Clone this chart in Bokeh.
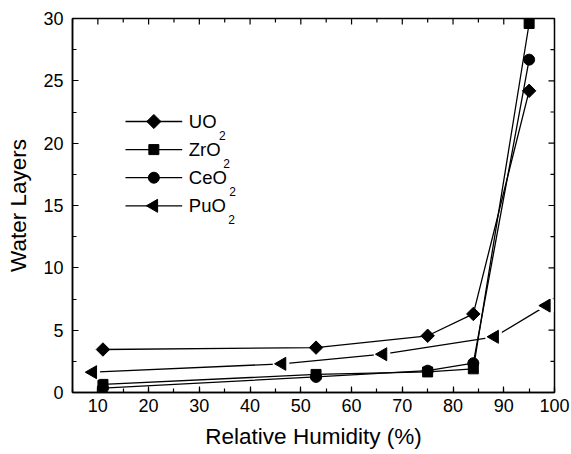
import numpy as np
from bokeh.plotting import figure
from bokeh.models import LinearAxis, SingleIntervalTicker, Range1d
from bokeh.core.properties import value
from bokeh.embed import file_html
from bokeh.resources import INLINE

# ---- data ----
rh = [11, 53, 75, 84, 95]
uo2 = [3.45, 3.6, 4.55, 6.3, 24.2]
zro2 = [0.65, 1.45, 1.65, 1.9, 29.6]
ceo2 = [0.35, 1.25, 1.75, 2.35, 26.7]
rh_pu = [9, 46.3, 66.2, 88.2, 98.4]
puo2 = [1.63, 2.3, 3.07, 4.47, 6.97]

names = ["UO", "ZrO", "CeO", "PuO"]
subs = ["2", "2", "2", "2"]
x_title = "Relative Humidity (%)"
y_title = "Water Layers"
x_ticks = list(range(10, 101, 10))
y_ticks = list(range(0, 31, 5))

FONT = "Liberation Sans"

# ---- layout ----
W, H = 571, 454
BL, BR, BT, BB = 72, 17, 18, 62
FW, FH = W - BL - BR, H - BT - BB

p = figure(width=W, height=H, output_backend="svg", toolbar_location=None,
           x_range=Range1d(5, 100), y_range=Range1d(0, 30),
           min_border_left=BL, min_border_right=BR, min_border_top=BT, min_border_bottom=BB,
           x_axis_location=None, y_axis_location=None)
p.background_fill_color = "white"
p.border_fill_color = "white"
p.outline_line_color = "black"
p.outline_line_width = 1.5
p.grid.visible = False
# pixel-unit ranges for the legend block
p.extra_x_ranges = {"px": Range1d(0, FW)}
p.extra_y_ranges = {"py": Range1d(0, FH)}

def style_axis(ax):
    ax.axis_line_color = "black"
    ax.axis_line_width = 1.5
    ax.major_tick_in = 6
    ax.major_tick_out = 0
    ax.minor_tick_in = 4
    ax.minor_tick_out = 0
    ax.major_tick_line_width = 1.2
    ax.minor_tick_line_width = 1.2
    ax.major_label_text_font = FONT
    ax.major_label_text_font_size = "18px"
    ax.major_label_text_color = "black"
    ax.axis_label_text_font = FONT
    ax.axis_label_text_font_size = "22.5px"
    ax.axis_label_text_font_style = "normal"
    ax.axis_label_text_color = "black"

bx = LinearAxis(ticker=SingleIntervalTicker(interval=10, num_minor_ticks=2), axis_label=x_title)
style_axis(bx)
bx.major_label_standoff = 6
bx.axis_label_standoff = 9
p.add_layout(bx, "below")

ly = LinearAxis(ticker=SingleIntervalTicker(interval=5, num_minor_ticks=2), axis_label=y_title)
style_axis(ly)
ly.major_label_standoff = 9
ly.axis_label_standoff = 9
p.add_layout(ly, "left")

# mirrored inward ticks on top and right (no labels)
xt_major = np.array(x_ticks, dtype=float)
xt_minor = np.arange(5, 100, 10, dtype=float)
yt_major = np.array(y_ticks, dtype=float)
yt_minor = np.arange(2.5, 30, 5, dtype=float)
p.ray(x=xt_major, y=30, length=6, length_units="screen", angle=-np.pi / 2,
      line_color="black", line_width=1.2)
p.ray(x=xt_minor, y=30, length=4, length_units="screen", angle=-np.pi / 2,
      line_color="black", line_width=1.2)
p.ray(x=100, y=yt_major, length=6, length_units="screen", angle=np.pi,
      line_color="black", line_width=1.2)
p.ray(x=100, y=yt_minor, length=4, length_units="screen", angle=np.pi,
      line_color="black", line_width=1.2)

LW = 1.3
series = [
    (rh, uo2, dict(marker="square", angle=np.pi / 4, size=9.5)),
    (rh, zro2, dict(marker="square", angle=0, size=10)),
    (rh, ceo2, dict(marker="circle", angle=0, size=11)),
    (rh_pu, puo2, dict(marker="triangle", angle=np.pi / 2, size=13)),
]

for i, (xs, ys, mk) in enumerate(series):
    p.line(xs, ys, line_color="black", line_width=LW)
    if mk["marker"] == "triangle":
        p.scatter(xs, ys, fill_color="white", line_color="white", line_width=7, **mk)
    p.scatter(xs, ys, fill_color="black", line_color="black", **mk)

# ---- legend block (pixel units inside the frame) ----
LEG_X0, LEG_X1 = 53, 109.7
LEG_TOP = 271
LEG_STEP = 28.1
TXT_X = 116.3
LBL_FS = 18.5
SUB_FS = 12
SUB_DY = 14
SUB_GAP = 2.5
ARIAL = {"U": 722, "O": 778, "Z": 611, "r": 333, "C": 722, "e": 556, "P": 667, "u": 556}

rows = LEG_TOP - LEG_STEP * np.arange(len(names))
leg_mk = [
    dict(marker="square", angle=np.pi / 4, size=10),
    dict(marker="square", angle=0, size=10),
    dict(marker="circle", angle=0, size=11),
    dict(marker="triangle", angle=np.pi / 2, size=13),
]
for i, nm in enumerate(names):
    y = rows[i]
    p.segment(x0=LEG_X0, y0=y, x1=LEG_X1, y1=y, line_color="black", line_width=LW,
              x_range_name="px", y_range_name="py")
    p.scatter(x=[(LEG_X0 + LEG_X1) / 2], y=[y], fill_color="black", line_color="black",
              x_range_name="px", y_range_name="py", **leg_mk[i])
    p.text(x=[TXT_X], y=[y], text=[nm], text_font=value(FONT),
           text_font_size=f"{LBL_FS}px", text_baseline="middle", text_align="left",
           text_color="black", x_range_name="px", y_range_name="py")
    wpx = sum(ARIAL[c] for c in nm) / 1000 * LBL_FS
    p.text(x=[TXT_X + wpx + SUB_GAP], y=[y - SUB_DY], text=[subs[i]], text_font=value(FONT),
           text_font_size=f"{SUB_FS}px", text_baseline="middle", text_align="left",
           text_color="black", x_range_name="px", y_range_name="py")

open("out.html", "w").write(file_html(p, INLINE))
